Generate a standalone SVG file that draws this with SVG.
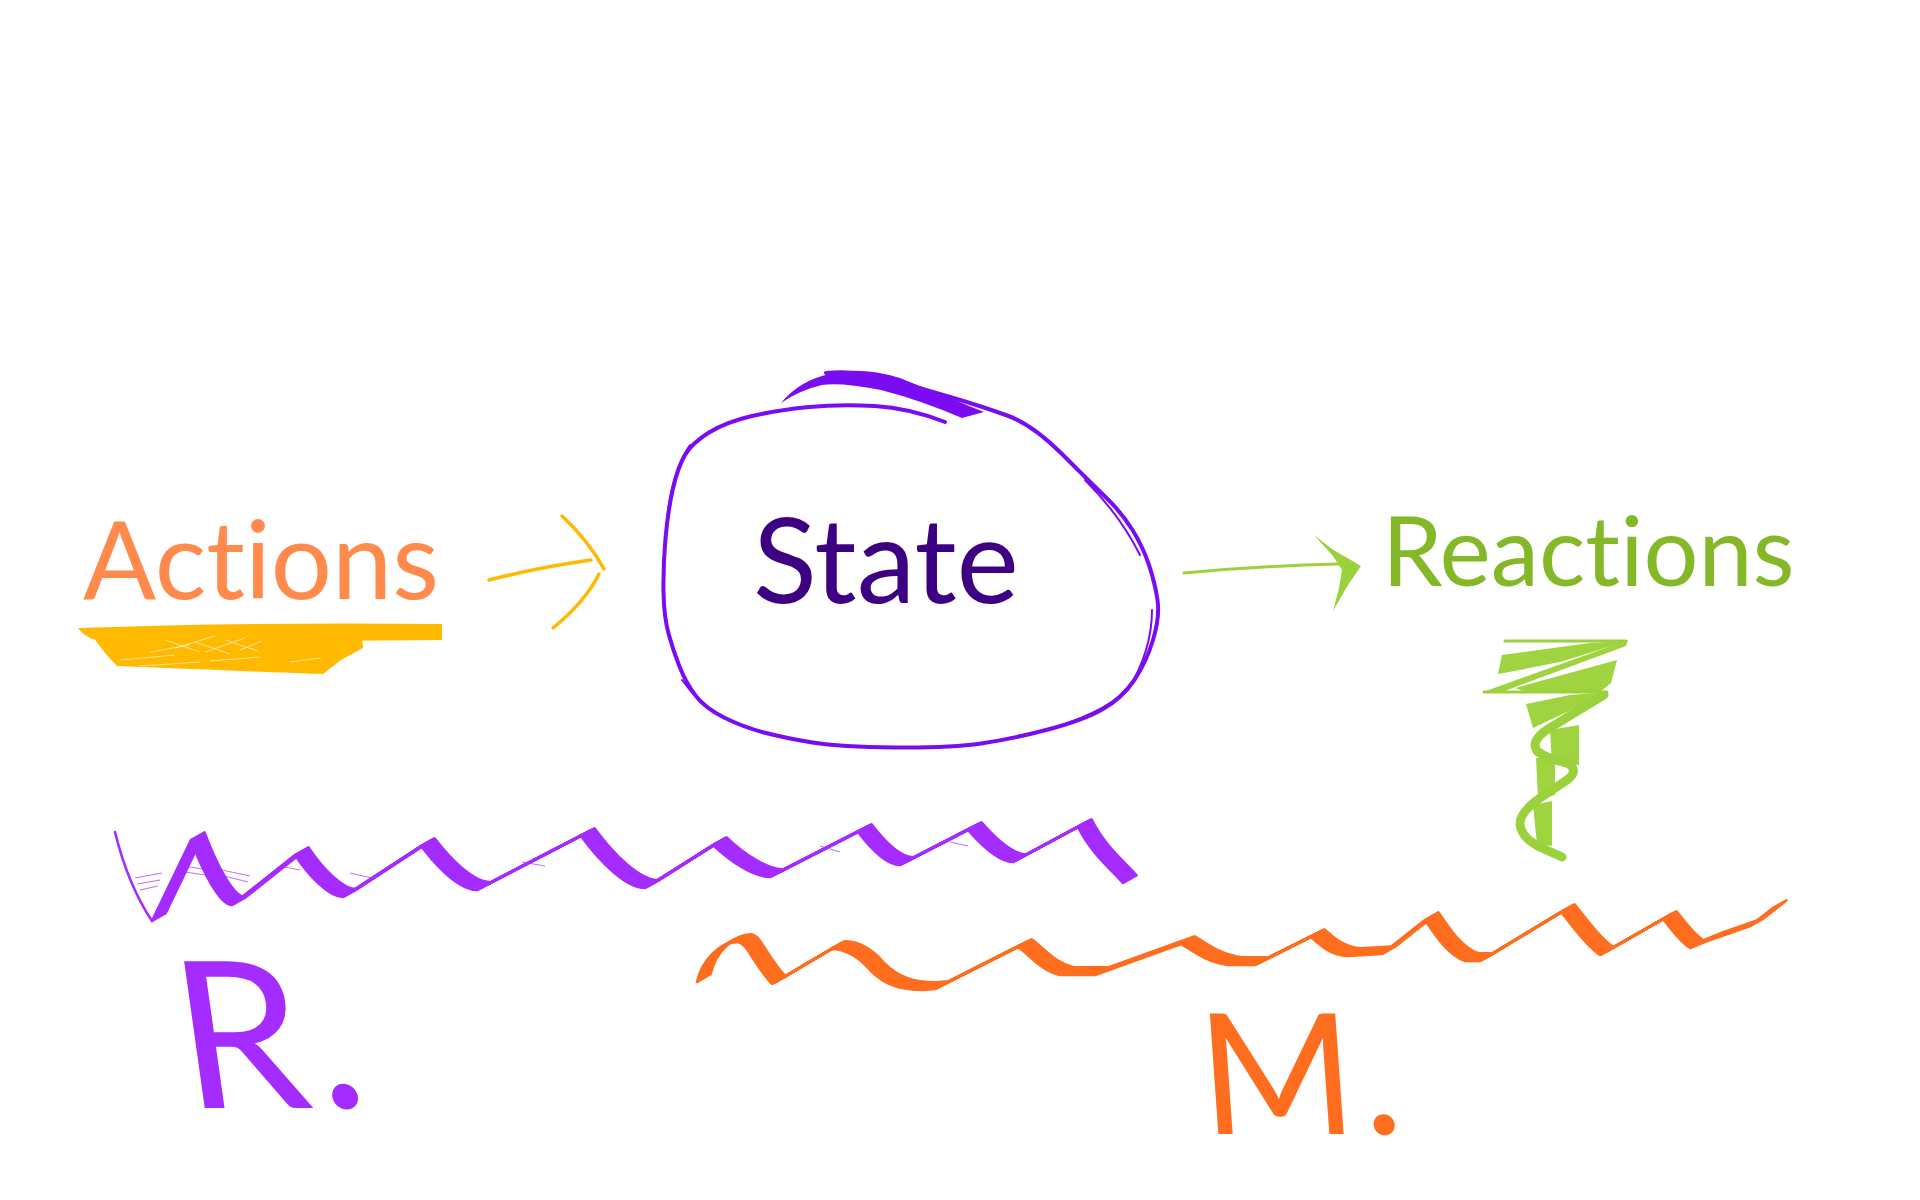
<svg xmlns="http://www.w3.org/2000/svg" xmlns:xlink="http://www.w3.org/1999/xlink" width="1920" height="1200" viewBox="0 0 1920 1200">
<style>
text{font-variant-ligatures:none;font-feature-settings:"liga" 0,"clig" 0}
.lbl{font-family:Lato,"Noto Sans","Liberation Sans",sans-serif;font-weight:400}
.hand{font-family:Lato,"Liberation Sans",sans-serif;font-weight:400}
.amber{stroke:#FFB900;fill:none;stroke-linecap:round;stroke-linejoin:round}
.green{stroke:#9BD13D;fill:none;stroke-linecap:round;stroke-linejoin:round}
.gfill{fill:#9FD340}
.violet{stroke:#7A0CF2;fill:none;stroke-linecap:round;stroke-linejoin:round}
.nibP{stroke:#A52CFF;fill:none;stroke-width:2.6;stroke-linecap:round;stroke-linejoin:round}
.nibO{stroke:#FF6D1F;fill:none;stroke-width:2.6;stroke-linecap:round;stroke-linejoin:round}
</style>
<defs>
<path id="pwave" d="M152,921 L191,840 C203,872 220,905 232,905 L295,855 C309,876 329,897 343,897 L421,846 C438,868 460,890 477,890 L581,836 C600,862 626,888 645,888 L713,845 C730,861 753,877 770,877 L858,832 C871,849 887,865 900,865 L968,830 C982,846 1000,862 1013,862 L1078,827 C1092,855 1112,870 1123,883"/>
<path id="owave" d="M697,982 C702,960 720,942 738,942 C748,944 752,962 772,984 L831,949 C845,949 858,956 870,970 C885,985 900,990 923,990 L935,989 L1018,947 C1030,955 1040,970 1060,975 L1095,975 L1181,944 C1192,950 1205,962 1228,965 L1255,965 L1311,937 C1320,945 1330,955 1348,956 L1382,954 L1425,920 C1435,935 1448,955 1465,961 L1480,961 L1561,912 C1572,925 1585,945 1600,955 L1663,919 C1672,930 1680,942 1690,948 L1707,941 L1750,926 L1773,908"/>
<g id="pnib">
  <use xlink:href="#pwave"/>
  <use xlink:href="#pwave" transform="translate(1.5,-0.85)"/>
  <use xlink:href="#pwave" transform="translate(3,-1.7)"/>
  <use xlink:href="#pwave" transform="translate(4.5,-2.55)"/>
  <use xlink:href="#pwave" transform="translate(6,-3.4)"/>
  <use xlink:href="#pwave" transform="translate(7.5,-4.25)"/>
  <use xlink:href="#pwave" transform="translate(9,-5.1)"/>
  <use xlink:href="#pwave" transform="translate(10.5,-5.95)"/>
  <use xlink:href="#pwave" transform="translate(12,-6.8)"/>
  <use xlink:href="#pwave" transform="translate(13.5,-7.65)"/>
</g>
<g id="onib">
  <use xlink:href="#owave"/>
  <use xlink:href="#owave" transform="translate(1.5,-0.85)"/>
  <use xlink:href="#owave" transform="translate(3,-1.7)"/>
  <use xlink:href="#owave" transform="translate(4.5,-2.55)"/>
  <use xlink:href="#owave" transform="translate(6,-3.4)"/>
  <use xlink:href="#owave" transform="translate(7.5,-4.25)"/>
  <use xlink:href="#owave" transform="translate(9,-5.1)"/>
  <use xlink:href="#owave" transform="translate(10.5,-5.95)"/>
  <use xlink:href="#owave" transform="translate(12,-6.8)"/>
  <use xlink:href="#owave" transform="translate(13.5,-7.65)"/>
</g>
</defs>

<g id="node-actions">
  <path d="M78,628 Q250,622 442,624 L442,640 Q300,642 92,639 Q82,634 78,628 Z" fill="#FFBA00"/>
  <path d="M90,633 L362,638 L363,648 L341,660 L323,674 Q240,671 117,666 L105,653 Z" fill="#FFBA00"/>
  <g stroke="#FFFFFF" stroke-width="0.8" opacity="0.75" fill="none">
    <path d="M165,640 L200,652 M175,648 L215,636 M195,642 L230,654 M205,652 L245,638 M225,640 L258,651 M240,650 L262,641 M150,652 L190,645 M120,660 L175,655 M210,661 L260,657 M140,666 L200,662 M290,662 L320,658"/>
  </g>
  <text class="lbl" x="83" y="599" font-size="108" fill="#FF8A4C">Actions</text>
</g>

<g id="node-state">
  <path class="violet" stroke-width="4" d="M826,373 Q854,370 885,378.5 Q916,387 950,397 Q984,407 1008.5,416 Q1033,425 1062,454 Q1091,483 1106.5,498 Q1122,513 1132.5,530 Q1143,547 1149,565 Q1155,583 1157.5,600 Q1160,617 1153,640 Q1146,663 1134,680.5 Q1122,698 1103,709 Q1084,720 1048,729.5 Q1012,739 981,743.5 Q950,748 895,747.5 Q840,747 812.5,742.5 Q785,738 764,732.5 Q743,727 724,717.5 Q705,708 695.5,695.5 Q686,683 679.5,666.5 Q673,650 668.5,633.5 Q664,617 663.5,592 Q663,567 665.5,538.5 Q668,510 673,488.5 Q678,467 685,455 Q692,443 709,432.5 Q726,422 752,416 Q778,410 809,407 Q840,404 874.5,406 Q909,408 945,422"/>
  <path class="violet" stroke-width="2" d="M1152,610 Q1152,650 1128,690 Q1100,715 1040,732 M690,445 Q672,470 667,520 M682,680 Q700,705 720,716 M1085,480 Q1120,515 1140,555"/>
  <path d="M781,403 Q800,380 830,374 Q860,366 900,378 L984,412 L962,418 Q920,400 881,390 Q840,382 822,385 Q800,390 781,403 Z" fill="#7A0CF2"/>
  <text class="lbl" x="753" y="603" font-size="118" fill="#3E0082">State</text>
</g>

<g id="node-reactions">
  <text class="lbl" x="1382" y="586" font-size="97" fill="#85B829">Reactions</text>
  <path class="green" stroke-width="3" d="M1505,641 L1626,641"/>
  <path class="gfill" d="M1502,655 L1590,643 L1628,641 L1560,662 L1504,673 L1498,674 Z"/>
  <path class="gfill" d="M1628,640 L1483,692 L1502,692 L1626,646 Z"/>
  <path class="gfill" d="M1515,688 L1617,660 L1611,683 L1600,692 L1525,692 Z"/>
  <path class="green" stroke-width="3" d="M1484,692 L1607,692"/>
  <path class="gfill" d="M1609,692 L1533,728 L1526,704 L1570,695 Z"/>
  <path class="gfill" d="M1550,730 L1579,725 L1579,765 L1552,763 Z"/>
  <path class="gfill" d="M1536,758 L1555,758 L1555,795 L1538,798 Z"/>
  <path class="gfill" d="M1533,805 L1552,801 L1552,846 L1537,844 Z"/>
  <path class="green" stroke-width="9" d="M1604,695 L1548,729 Q1530,741 1537,751 Q1545,758 1567,763 Q1580,770 1567,780 L1543,796 Q1520,811 1520,824 Q1521,838 1542,848 L1562,857"/>
</g>

<g id="connectors">
  <path class="amber" stroke-width="3.5" d="M489,580 Q540,567 591,560"/>
  <path class="amber" stroke-width="3.5" d="M562,516 Q588,540 604,569"/>
  <path class="amber" stroke-width="3.5" d="M599,574 Q585,602 553,628"/>
  <path class="green" stroke-width="3" d="M1184,573 Q1260,566 1338,564"/>
  <path d="M1314,535 L1332,549 L1361,566 L1348,585 L1333,611 L1339,588 L1342,570 L1333,556 Z" fill="#9BD13D"/>
</g>

<g id="marks">
  <path class="nibP" stroke-width="3" d="M115,832 Q128,885 152,921"/>
  <use xlink:href="#pnib" class="nibP"/>
  <g stroke="#A52CFF" stroke-width="1" opacity="0.7" fill="none">
    <path d="M135,878 L162,873 M137,884 L160,880 M140,890 L158,886 M183,866 L210,870 M185,872 L212,876 M222,870 L250,876 M224,876 L248,882 M280,866 L300,870 M350,873 L372,878 M430,860 L450,864 M522,862 L545,866 M820,846 L840,852 M950,842 L968,846"/>
  </g>
  <use xlink:href="#onib" class="nibO"/>
  <text class="hand" transform="translate(186,1108) skewX(8)" font-size="205" fill="#A52CFF" letter-spacing="8">R.</text>
  <text class="hand" transform="translate(1203,1134) skewX(4)" font-size="168" fill="#FF6D1F" letter-spacing="6">M.</text>
</g>
</svg>
